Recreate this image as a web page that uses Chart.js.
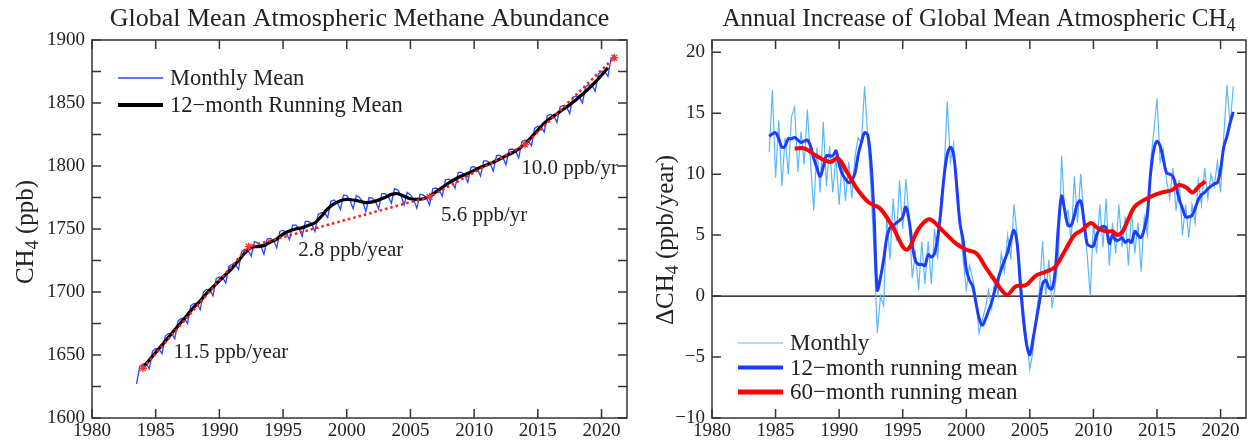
<!DOCTYPE html>
<html>
<head>
<meta charset="utf-8">
<script src="https://cdn.jsdelivr.net/npm/chart.js@4.4.1/dist/chart.umd.min.js"></script>
<style>
  body { margin: 0; background: #fff; }
  .panel { position: absolute; top: 0; height: 443px; }
  #left { left: 0; width: 640px; }
  #right { left: 640px; width: 612px; }
</style>
</head>
<body>
<div class="panel" id="left"><canvas id="abundanceChart"></canvas></div>
<div class="panel" id="right"><canvas id="growthChart"></canvas></div>
<script>
// ---- data ----
const yearTicks = [1980, 1985, 1990, 1995, 2000, 2005, 2010, 2015, 2020];
const abundanceTicks = [1600, 1650, 1700, 1750, 1800, 1850, 1900];
const growthTicks = [-10, -5, 0, 5, 10, 15, 20];

// global mean CH4 (ppb), quarterly samples from 1983.5
const ch4MonthlyStart = 1983.5;
const ch4Monthly = [
  1627, 1641,
  1643, 1643, 1639, 1653,
  1655, 1655, 1651, 1665,
  1667, 1667, 1663, 1677,
  1679, 1679, 1675, 1689,
  1691, 1690.5, 1686, 1700,
  1702, 1701.5, 1697, 1710.5,
  1712, 1711.5, 1707, 1720.5,
  1722, 1722, 1718, 1732,
  1734, 1733, 1728.5, 1740,
  1739, 1736.5, 1730, 1742,
  1742.5, 1741, 1735, 1748,
  1749, 1747, 1741.5, 1753,
  1753, 1750.5, 1744, 1756,
  1756, 1754, 1748, 1761.5,
  1763, 1763, 1759, 1772,
  1773, 1771, 1765.5, 1777,
  1776.5, 1773, 1766, 1776.5,
  1775, 1771.5, 1764, 1775,
  1774.5, 1772, 1766, 1778,
  1778, 1776, 1770.5, 1782,
  1781, 1777, 1769, 1779,
  1777, 1773.5, 1766.5, 1777.5,
  1777, 1775, 1769, 1782,
  1782.5, 1781, 1776, 1789,
  1789.5, 1788, 1782.5, 1795,
  1795, 1793, 1787, 1799,
  1799.5, 1798, 1792, 1804,
  1804, 1802, 1796, 1808,
  1808.5, 1807, 1801, 1813,
  1813.5, 1812, 1806.5, 1819.5,
  1820.5, 1820, 1816, 1830,
  1831.5, 1831, 1827, 1840,
  1841, 1840, 1834.5, 1847,
  1848, 1847, 1841.5, 1854.5,
  1855.5, 1855, 1850, 1863,
  1864.5, 1864, 1859.5, 1873,
  1875, 1875, 1871, 1885,
  1888
];

// 12-month running mean (ppb), half-year samples from 1984.0
const runningMeanStart = 1984.0;
const ch4RunningMean = [
  1640, 1646, 1652, 1658, 1664, 1670, 1676, 1682, 1688, 1693,
  1699, 1704, 1709, 1714, 1719, 1725, 1731, 1735.5, 1736, 1737,
  1739.5, 1742, 1746, 1748.5, 1750, 1751, 1753, 1755, 1760, 1766,
  1770, 1772.5, 1773.5, 1773, 1772, 1771, 1771.5, 1773, 1775, 1777.5,
  1778, 1776, 1774, 1773.5, 1774, 1776, 1779.5, 1783, 1786.5, 1789.5,
  1792, 1794, 1796.5, 1799, 1801, 1803, 1805.5, 1808, 1810.5, 1813.5,
  1817.5, 1823, 1828.5, 1834, 1838, 1841.5, 1845, 1848.5, 1852.5, 1857,
  1861.5, 1866.5, 1872, 1878
];

// piecewise linear trends
const trendYears = [1984.0, 1992.3, 2006.5, 2014.0, 2021.0];
const trendValues = [1639.5, 1736, 1775.5, 1817, 1886];
const rateLabels = ["11.5 ppb/year", "2.8 ppb/year", "5.6 ppb/yr", "10.0 ppb/yr"];

// growth rate (ppb/year), quarterly samples from 1984.5
const growthStart = 1984.5;
const growthMonthly = [
  11.8, 16.9,
  9.7, 14.4, 9.0, 13.0,
  10.0, 14.7, 15.5, 10.2,
  13.5, 10.8, 15.3, 11.0,
  7.0, 12.2, 8.5, 14.3,
  9.0, 12.3, 8.5, 11.5,
  7.5, 11.2, 7.8, 11.0,
  8.0, 11.5, 13.0, 12.5,
  17.2, 13.0, 9.0, 3.5,
  -3.0, 0.0, -0.8, 6.5,
  3.0, 8.0, 4.5, 9.5,
  5.5, 9.6, 6.5, 1.5,
  3.5, 0.5, 4.5, 1.0,
  4.5, 1.0, 5.5, 3.0,
  8.0, 10.0, 16.0, 11.0,
  12.5, 8.0, 6.0, 3.0,
  0.5, 2.5, 1.5, 0.0,
  -3.0, -2.0, -1.0, 0.5,
  -1.0, 1.5, 0.0, 3.5,
  2.0, 5.0, 3.0, 7.5,
  5.0, 2.0, -1.0, -3.5,
  -6.0, -4.5, -1.5, 0.5,
  4.5, 0.0, 3.0, -1.0,
  1.0, 3.0, 11.5, 6.5,
  7.0, 4.5, 9.8, 6.0,
  10.0, 6.5, 3.5, 0.0,
  6.0, 3.5, 7.5, 4.0,
  8.0, 2.5, 6.0, 3.5,
  7.5, 4.0, 6.5, 2.5,
  7.0, 3.5, 6.0, 2.0,
  6.5, 5.0, 11.0, 13.5,
  16.2, 11.0, 12.0, 9.5,
  8.0, 10.5, 7.0, 9.5,
  5.0, 7.5, 4.8, 7.5,
  6.0, 9.5, 7.5, 10.5,
  8.0, 10.0, 9.0, 11.0,
  8.5, 13.0, 17.3, 14.0,
  17.2
];
const growth12 = [
  13.1, 13.3,
  13.4, 12.9, 12.2, 12.3,
  12.9, 12.9, 13.0, 12.8,
  12.6, 12.7, 12.8, 12.3,
  11.3, 10.5, 9.8, 10.6,
  11.5, 11.5, 11.5, 11.9,
  10.8, 10.0, 9.6, 9.3,
  9.5, 10.1, 11.6, 12.6,
  13.4, 13.2, 11.0, 6.5,
  0.5, 1.5, 3.0, 4.8,
  5.6, 5.8, 6.0, 6.2,
  6.5, 7.3, 6.2, 4.2,
  2.9, 2.6, 2.6, 2.5,
  3.4, 3.2, 3.5, 4.8,
  7.0, 9.8, 11.6, 12.2,
  11.6, 9.0, 6.0, 4.6,
  2.2, 1.3, 0.8, -0.5,
  -1.8, -2.4, -1.9, -1.2,
  -0.5, 0.5, 1.4, 2.2,
  2.9, 3.6, 4.6, 5.4,
  4.3, 1.0, -2.0, -4.0,
  -4.8, -3.5, -2.0, -0.5,
  1.0, 1.3, 0.7, 0.6,
  2.1, 5.8, 8.2, 7.0,
  5.8, 5.8, 6.6, 7.6,
  7.8, 6.2, 4.3, 4.1,
  4.1, 5.0, 5.5, 5.7,
  5.6, 4.3, 5.0, 4.6,
  4.6, 4.8, 4.4, 4.6,
  4.4, 5.3, 5.0, 4.8,
  5.5, 6.8, 10.1, 12.0,
  12.7, 12.3, 11.2, 10.1,
  10.0, 9.8, 9.0, 7.9,
  7.2, 6.5, 6.5, 6.6,
  7.2, 7.9, 8.3, 8.5,
  8.8, 9.0, 9.2, 9.3,
  10.4, 12.2, 13.1, 14.2,
  15.1
];
const growth60Years = [
  1986.5, 1987.3, 1988.2, 1989.3, 1989.9, 1990.6, 1991.4, 1992.3, 1993.2, 1994.2,
  1995.3, 1996.3, 1997.1, 1998.1, 1999.2, 2000.0, 2000.8, 2001.5, 2002.3, 2003.2,
  2003.9, 2004.7, 2005.5, 2006.3, 2007.0, 2007.8, 2008.5, 2009.1, 2009.8, 2010.3,
  2011.0, 2011.5, 2011.9, 2012.3, 2012.7, 2013.3, 2014.4, 2015.4, 2016.2, 2016.7,
  2017.3, 2017.8, 2018.3, 2018.8
];
const growth60 = [
  12.1, 12.1, 11.5, 11.0, 11.3, 10.2, 8.8, 7.7, 7.2, 5.7,
  3.8, 5.6, 6.3, 5.4, 4.3, 3.8, 3.5, 2.4, 1.2, 0.1,
  0.8, 0.9, 1.7, 2.0, 2.4, 3.8, 5.0, 5.4, 6.0, 5.6,
  5.3, 5.3, 5.0, 5.3, 6.2, 7.4, 8.1, 8.5, 8.7, 9.1,
  8.9, 8.5, 9.0, 9.4
];

// ---- helpers ----
const serif = '"Liberation Serif", "Times New Roman", "DejaVu Serif", serif';
const ink = "#222";

function series(start, step, values) {
  return values.map((v, i) => ({ x: start + i * step, y: v }));
}
function pairs(xs, ys) {
  return xs.map((x, i) => ({ x: x, y: ys[i] }));
}

// text with subscripts, centred on (x, y)
function richText(ctx, parts, x, y, size, rotate) {
  ctx.save();
  ctx.translate(x, y);
  if (rotate) ctx.rotate(-Math.PI / 2);
  const sub = Math.round(size * 0.7);
  let total = 0;
  parts.forEach(p => {
    ctx.font = (p.sub ? sub : size) + "px " + serif;
    total += ctx.measureText(p.t).width;
  });
  let cx = -total / 2;
  ctx.textBaseline = "middle";
  ctx.textAlign = "left";
  ctx.fillStyle = ink;
  parts.forEach(p => {
    ctx.font = (p.sub ? sub : size) + "px " + serif;
    ctx.fillText(p.t, cx, p.sub ? size * 0.3 : 0);
    cx += ctx.measureText(p.t).width;
  });
  ctx.restore();
}

const framePlugin = {
  id: "frame",
  beforeDatasetsDraw(chart, args, opts) {
    if (!opts.zeroLine) return;
    const { ctx, chartArea: a, scales: { y } } = chart;
    const py = y.getPixelForValue(0);
    ctx.save();
    ctx.strokeStyle = "#000";
    ctx.lineWidth = 1.3;
    ctx.beginPath();
    ctx.moveTo(a.left, py);
    ctx.lineTo(a.right, py);
    ctx.stroke();
    ctx.restore();
  },
  afterDraw(chart, args, opts) {
    const { ctx, chartArea: a, scales: { x, y } } = chart;
    ctx.save();
    ctx.strokeStyle = "#333";
    ctx.lineWidth = 1.5;
    ctx.strokeRect(a.left, a.top, a.right - a.left, a.bottom - a.top);
    ctx.beginPath();
    const tl = 9;
    x.ticks.forEach(t => {
      const px = x.getPixelForValue(t.value);
      ctx.moveTo(px, a.bottom); ctx.lineTo(px, a.bottom - tl);
      ctx.moveTo(px, a.top); ctx.lineTo(px, a.top + tl);
    });
    for (let v = y.min; v <= y.max + 1e-6; v += opts.yTickStep) {
      const py = y.getPixelForValue(v);
      ctx.moveTo(a.left, py); ctx.lineTo(a.left + tl, py);
      ctx.moveTo(a.right, py); ctx.lineTo(a.right - tl, py);
    }
    ctx.stroke();

    // titles
    richText(ctx, opts.title, (a.left + a.right) / 2, 19, opts.titleSize, false);
    richText(ctx, opts.axisTitle, 26, opts.axisTitleY, 25, true);

    // legend
    const lg = opts.legend;
    lg.items.forEach((idx, i) => {
      const ds = chart.data.datasets[idx];
      const ly = lg.y + i * lg.dy;
      ctx.strokeStyle = ds.borderColor;
      ctx.lineWidth = ds.borderWidth + (ds.borderWidth > 2 ? 1 : 0);
      ctx.setLineDash([]);
      ctx.beginPath();
      ctx.moveTo(lg.x, ly);
      ctx.lineTo(lg.x + 45, ly);
      ctx.stroke();
      ctx.fillStyle = ink;
      ctx.font = lg.size + "px " + serif;
      ctx.textBaseline = "middle";
      ctx.textAlign = "left";
      ctx.fillText(ds.label, lg.x + 52, ly + 1);
    });

    // rate notes
    (opts.notes || []).forEach(n => {
      ctx.fillStyle = ink;
      ctx.font = "21px " + serif;
      ctx.textBaseline = "middle";
      ctx.textAlign = "left";
      ctx.fillText(n.text, x.getPixelForValue(n.x), y.getPixelForValue(n.y));
    });
    ctx.restore();
  },
};

function scales(yMin, yMax, yTicks, yWidth) {
  const tickFont = { family: serif, size: 19 };
  const noGrid = { display: false, drawTicks: false, tickLength: 0 };
  return {
    x: {
      type: "linear",
      min: 1980,
      max: 2022,
      grid: noGrid,
      border: { display: false },
      afterBuildTicks: s => { s.ticks = yearTicks.map(v => ({ value: v })); },
      afterFit: s => { s.height = 25; },
      ticks: { font: tickFont, color: ink, padding: 2, maxRotation: 0, autoSkip: false, callback: v => String(v) },
    },
    y: {
      type: "linear",
      min: yMin,
      max: yMax,
      grid: noGrid,
      border: { display: false },
      afterBuildTicks: s => { s.ticks = yTicks.map(v => ({ value: v })); },
      afterFit: s => { s.width = yWidth; },
      ticks: { font: tickFont, color: ink, padding: 7, autoSkip: false, callback: v => String(v).replace("-", "\u2212") },
    },
  };
}

// ---- left: abundance ----
new Chart(document.getElementById("abundanceChart"), {
  type: "line",
  plugins: [framePlugin],
  data: {
    datasets: [
      {
        label: "Monthly Mean",
        data: series(ch4MonthlyStart, 0.25, ch4Monthly),
        borderColor: "#2447ff",
        borderWidth: 1.3,
        tension: 0,
        order: 2,
      },
      {
        label: "12\u2212month Running Mean",
        data: series(runningMeanStart, 0.5, ch4RunningMean),
        borderColor: "#000",
        borderWidth: 3.2,
        tension: 0.4,
        order: 1,
      },
      {
        label: "trend",
        data: pairs(trendYears, trendValues),
        borderColor: "#ff1a1a",
        borderWidth: 2.5,
        borderDash: [2.5, 3],
        pointStyle: "star",
        pointRadius: 4,
        pointBorderColor: "#ff3030",
        pointBorderWidth: 1.3,
        order: 0,
      },
    ],
  },
  options: {
    responsive: true,
    maintainAspectRatio: false,
    animation: false,
    elements: { point: { radius: 0 } },
    layout: { padding: { left: 0, top: 40, right: 13, bottom: 0 } },
    scales: scales(1600, 1900, abundanceTicks, 92),
    plugins: {
      legend: { display: false },
      tooltip: { enabled: false },
      frame: {
        yTickStep: 25,
        titleSize: 26,
        title: [{ t: "Global Mean Atmospheric Methane Abundance" }],
        axisTitle: [{ t: "CH" }, { t: "4", sub: true }, { t: " (ppb)" }],
        axisTitleY: 232,
        legend: { x: 118, y: 78, dy: 27, size: 22.5, items: [0, 1] },
        notes: [
          { text: rateLabels[0], x: 1986.4, y: 1652 },
          { text: rateLabels[1], x: 1996.2, y: 1733 },
          { text: rateLabels[2], x: 2007.4, y: 1761 },
          { text: rateLabels[3], x: 2013.7, y: 1798 },
        ],
      },
    },
  },
});

// ---- right: growth rate ----
new Chart(document.getElementById("growthChart"), {
  type: "line",
  plugins: [framePlugin],
  data: {
    datasets: [
      {
        label: "Monthly",
        data: series(growthStart, 0.25, growthMonthly),
        borderColor: "#5ab8ff",
        borderWidth: 1.2,
        tension: 0,
        order: 2,
      },
      {
        label: "12\u2212month running mean",
        data: series(growthStart, 0.25, growth12),
        borderColor: "#1d3cff",
        borderWidth: 3,
        tension: 0.35,
        order: 1,
      },
      {
        label: "60\u2212month running mean",
        data: pairs(growth60Years, growth60),
        borderColor: "#ff0000",
        borderWidth: 4,
        tension: 0.35,
        order: 0,
      },
    ],
  },
  options: {
    responsive: true,
    maintainAspectRatio: false,
    animation: false,
    elements: { point: { radius: 0 } },
    layout: { padding: { left: 0, top: 40, right: 6, bottom: 0 } },
    scales: scales(-10, 21, growthTicks, 72),
    plugins: {
      legend: { display: false },
      tooltip: { enabled: false },
      frame: {
        yTickStep: 5,
        zeroLine: true,
        titleSize: 25,
        title: [{ t: "Annual Increase of Global Mean Atmospheric CH" }, { t: "4", sub: true }],
        axisTitle: [{ t: "\u0394CH" }, { t: "4", sub: true }, { t: " (ppb/year)" }],
        axisTitleY: 240,
        legend: { x: 98, y: 343, dy: 24.5, size: 23, items: [0, 1, 2] },
      },
    },
  },
});
</script>
</body>
</html>
